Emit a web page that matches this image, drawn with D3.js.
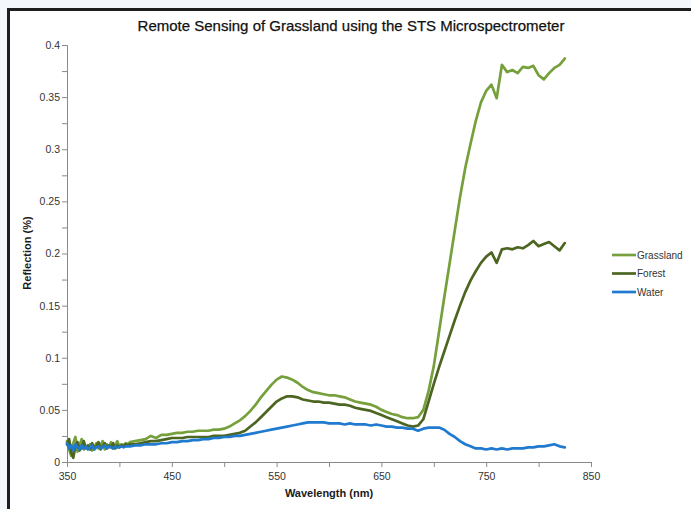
<!DOCTYPE html>
<html>
<head>
<meta charset="utf-8">
<script src="https://cdn.jsdelivr.net/npm/d3@7"></script>
<style>
html,body{margin:0;padding:0;background:#f4f7fb;}
svg{display:block;}
text{font-family:"Liberation Sans",Arial,sans-serif;}
</style>
</head>
<body>
<svg id="chart" width="691" height="509"></svg>
<script>
// ---- data ----
const wavelengths = [
  350,352,354,356,358,360,362,364,366,368,370,372,374,376,378,380,382,384,386,388,390,392,394,396,398,400,402,404,406,408,410,
  415,420,425,430,435,440,445,450,455,460,465,470,475,480,485,490,495,500,505,510,515,520,525,530,535,540,545,550,555,560,
  565,570,575,580,585,590,595,600,605,610,615,620,625,630,635,640,645,650,655,660,665,670,675,680,685,690,695,700,705,710,
  715,720,725,730,735,740,745,750,755,760,765,770,775,780,785,790,795,800,805,810,815,820,825
];
const grassland = [
  0.020,0.012,0.006,0.018,0.024,0.010,0.016,0.022,0.012,0.015,0.013,0.017,0.011,0.014,0.018,0.013,0.016,0.020,0.012,0.017,0.014,0.019,0.013,0.016,0.020,0.015,0.017,0.016,0.018,0.017,0.019,
  0.020,0.021,0.022,0.025,0.023,0.026,0.026,0.027,0.028,0.028,0.029,0.029,0.030,0.030,0.030,0.031,0.031,0.032,0.034,0.037,0.040,0.044,0.049,0.055,0.062,0.068,0.074,0.079,0.082,0.081,
  0.079,0.076,0.072,0.069,0.067,0.066,0.065,0.064,0.064,0.063,0.062,0.060,0.058,0.057,0.056,0.055,0.053,0.050,0.048,0.046,0.045,0.043,0.042,0.042,0.043,0.050,0.068,0.092,0.125,0.158,
  0.190,0.222,0.254,0.282,0.305,0.327,0.345,0.356,0.362,0.349,0.381,0.374,0.376,0.373,0.379,0.378,0.380,0.371,0.367,0.373,0.378,0.381,0.387
];
const forest = [
  0.017,0.022,0.009,0.004,0.015,0.019,0.011,0.014,0.020,0.013,0.016,0.012,0.018,0.013,0.015,0.019,0.012,0.015,0.018,0.013,0.016,0.014,0.018,0.013,0.016,0.014,0.016,0.015,0.017,0.016,0.017,
  0.017,0.018,0.019,0.020,0.020,0.021,0.022,0.023,0.023,0.023,0.024,0.024,0.024,0.024,0.024,0.025,0.025,0.025,0.026,0.027,0.028,0.030,0.034,0.038,0.043,0.048,0.053,0.058,0.061,0.063,
  0.063,0.062,0.060,0.059,0.058,0.058,0.057,0.057,0.056,0.055,0.055,0.054,0.052,0.051,0.050,0.049,0.047,0.045,0.043,0.041,0.039,0.037,0.035,0.034,0.035,0.041,0.058,0.075,0.091,0.106,
  0.121,0.136,0.150,0.163,0.174,0.183,0.191,0.197,0.201,0.191,0.204,0.205,0.204,0.206,0.205,0.208,0.212,0.207,0.209,0.211,0.207,0.203,0.210
];
const water = [
  0.018,0.013,0.016,0.011,0.017,0.014,0.012,0.016,0.013,0.015,0.012,0.014,0.016,0.012,0.014,0.015,0.013,0.014,0.016,0.013,0.015,0.014,0.013,0.015,0.014,0.014,0.015,0.014,0.015,0.015,0.015,
  0.016,0.016,0.017,0.017,0.017,0.018,0.018,0.019,0.019,0.020,0.020,0.021,0.021,0.022,0.022,0.023,0.023,0.024,0.024,0.025,0.025,0.026,0.027,0.028,0.029,0.030,0.031,0.032,0.033,0.034,
  0.035,0.036,0.037,0.038,0.038,0.038,0.038,0.037,0.037,0.037,0.036,0.037,0.036,0.036,0.036,0.035,0.036,0.035,0.034,0.034,0.033,0.033,0.032,0.032,0.030,0.032,0.033,0.033,0.033,0.031,
  0.027,0.024,0.020,0.017,0.015,0.013,0.013,0.012,0.013,0.012,0.013,0.012,0.013,0.013,0.013,0.014,0.014,0.015,0.015,0.016,0.017,0.015,0.014
];
const seriesNames = ["Grassland","Forest","Water"];
const seriesColors = ["#76a03c","#4c6622","#1f7ad0"];
const xTicks = [350,450,550,650,750,850];
const yTicks = [0,0.05,0.1,0.15,0.2,0.25,0.3,0.35,0.4];
const title = "Remote Sensing of Grassland using the STS Microspectrometer";
const xTitle = "Wavelength (nm)";
const yTitle = "Reflection (%)";

// ---- drawing ----
const svg = d3.select("#chart");
// frame
svg.append("rect").attr("x",8.5).attr("y",9.5).attr("width",700).attr("height",520).attr("fill","#ffffff");
svg.append("path").attr("d","M8.5,520 V9.5 H700").attr("fill","none").attr("stroke","#1e1e1e").attr("stroke-width",3);

const x = d3.scaleLinear().domain([350,850]).range([67,591]);
const y = d3.scaleLinear().domain([0,0.4]).range([462,45]);
const axisColor = "#8a8a8a";

// x axis
const gx = svg.append("g").attr("transform","translate(0,462)")
  .call(d3.axisBottom(x).tickValues(d3.range(350,851,50)).tickSize(5)
    .tickFormat(d => xTicks.includes(d) ? d : ""));
// y axis
const gy = svg.append("g").attr("transform","translate(67,0)")
  .call(d3.axisLeft(y).tickValues(d3.range(0,0.4001,0.025)).tickSize(5)
    .tickFormat(d => yTicks.some(t => Math.abs(t-d)<1e-6) ? d3.format("")(+d.toFixed(3)) : ""));
[gx,gy].forEach(g=>{
  g.select(".domain").attr("stroke",axisColor).attr("stroke-width",1);
  g.selectAll(".tick line").attr("stroke",axisColor);
  g.selectAll(".tick text").attr("fill","#333").attr("font-size","10.5px").attr("font-family","Liberation Sans, Arial, sans-serif");
});
gx.selectAll(".tick text").attr("dy","0.95em");
gy.selectAll(".tick text").attr("x",-7);

// lines
const seriesData = [grassland, forest, water];
const line = d3.line().x((d,i)=>x(wavelengths[i])).y(d=>y(d));
seriesData.forEach((vals,k)=>{
  svg.append("path").datum(vals).attr("d",line).attr("fill","none")
    .attr("stroke",seriesColors[k]).attr("stroke-width",2.7)
    .attr("stroke-linejoin","round").attr("stroke-linecap","round");
});

// title
svg.append("text").attr("x",351).attr("y",31).attr("text-anchor","middle")
  .attr("font-size","15px").attr("fill","#111").attr("stroke","#111").attr("stroke-width",0.25).text(title);
// axis titles
svg.append("text").attr("x",329).attr("y",497).attr("text-anchor","middle")
  .attr("font-size","11px").attr("font-weight","bold").attr("fill","#1a1a1a").text(xTitle);
svg.append("text").attr("transform","translate(31,253) rotate(-90)").attr("text-anchor","middle")
  .attr("font-size","11px").attr("font-weight","bold").attr("fill","#1a1a1a").text(yTitle);

// legend
const ly = [255,273.5,292];
seriesNames.forEach((n,k)=>{
  svg.append("line").attr("x1",612).attr("x2",636).attr("y1",ly[k]).attr("y2",ly[k])
    .attr("stroke",seriesColors[k]).attr("stroke-width",2.7);
  svg.append("text").attr("x",637).attr("y",ly[k]+3.5).attr("font-size","10px").attr("fill","#333").text(n);
});
</script>
</body>
</html>
